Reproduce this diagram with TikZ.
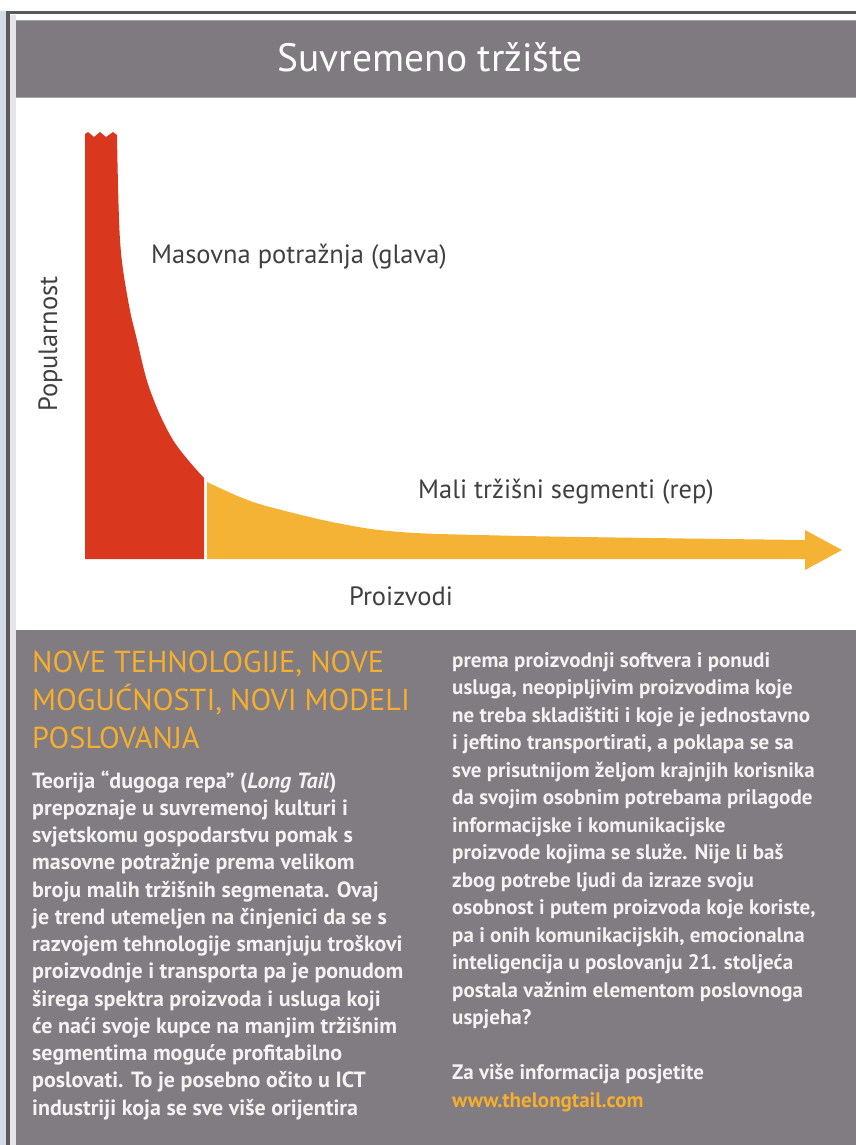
\documentclass[tikz,border=0pt]{standalone}
\usepackage{fontspec}
\setmainfont{PT Sans}
\definecolor{frameblue}{HTML}{D3DCE4}
\definecolor{framedark}{HTML}{5A5A5C}
\definecolor{frameinner}{HTML}{E4E7EA}
\definecolor{headgray}{HTML}{7E7A7F}
\definecolor{panelgray}{HTML}{807C81}
\definecolor{headred}{HTML}{D9381E}
\definecolor{tailyellow}{HTML}{F5B335}
\definecolor{headorange}{HTML}{F5AE2E}
\definecolor{charttext}{HTML}{404040}
\definecolor{bodytext}{HTML}{F4F2F2}
\tikzset{
  charttxt/.style={inner sep=0pt, text=charttext, font=\fontsize{26.5}{31}\selectfont},
  headtxt/.style={inner sep=0pt, anchor=base west, text=headorange, font=\fontsize{30.3}{36}\selectfont},
  bodytxt/.style={inner sep=0pt, anchor=base west, text=bodytext, font=\bfseries\fontsize{21}{26}\selectfont},
  bodytxtl/.style={bodytxt, font=\bfseries\fontsize{22}{26}\selectfont},
  urltxt/.style={bodytxt, text=headorange},
}
\begin{document}
\begin{tikzpicture}[x=1pt,y=-1pt]
\useasboundingbox (0,0) rectangle (856,1145);
% frame
\fill[white] (0,0) rectangle (856,1145);
\fill[frameblue] (0,11) rectangle (6,1145);
\fill[frameinner] (9,15) rectangle (16,1145);
\fill[framedark] (6,11) rectangle (856,14.5);
\fill[framedark] (6,11) rectangle (9.5,1145);
% header
\fill[headgray] (16,21) rectangle (856,97);
\draw[line width=1pt, headgray!70!white] (16,20.5) -- (856,20.5);
\draw[line width=1pt, headgray!70!white] (16,97.5) -- (856,97.5);
\node (title) [inner sep=0pt, anchor=base, text=white, font=\fontsize{39.5}{46}\selectfont] at (430,72) {Suvremeno tržište};
% chart
\fill[headred] (85,559) -- (85,134) -- (88,132) -- (94,137) -- (100,132) -- (106,137) -- (113,132) -- (117,135)
  -- plot[smooth, tension=0.6] coordinates {(117,135) (120,240) (128,300) (137,340) (150,390) (173,440) (204,478)}
  -- (204,559) -- cycle;
\fill[tailyellow] (207,559) -- (207,482)
  -- plot[smooth, tension=0.6] coordinates {(207,482) (240,497) (270,507) (337,523) (400,532) (500,535.5) (650,538) (805,540)}
  -- (805,530) -- (842,550) -- (805,570) -- (805,559) -- cycle;
\node (head) [charttxt, anchor=base west] at (151,263) {Masovna potražnja (glava)};
\node (tail) [charttxt, anchor=base west] at (418,498) {Mali tržišni segmenti (rep)};
\node (xlab) [charttxt, anchor=base] at (401,605) {Proizvodi};
\node (ylab) [charttxt, anchor=base, rotate=90] at (57,344) {Popularnost};
% panel
\fill[panelgray] (16,630) rectangle (856,1145);
\node (h1) [headtxt] at (32,672) {NOVE TEHNOLOGIJE, NOVE};
\node (h2) [headtxt] at (32,710) {MOGUĆNOSTI, NOVI MODELI};
\node (h3) [headtxt] at (32,748) {POSLOVANJA};
% left column
\node (a1) [bodytxtl] at (32,788) {Teorija “dugoga repa” (\textit{Long Tail})};
\node (a2) [bodytxtl] at (32,815.25) {prepoznaje u suvremenoj kulturi i};
\node (a3) [bodytxtl] at (32,842.5) {svjetskomu gospodarstvu pomak s};
\node (a4) [bodytxtl] at (32,869.75) {masovne potražnje prema velikom};
\node (a5) [bodytxtl] at (32,897) {broju malih tržišnih segmenata. Ovaj};
\node (a6) [bodytxtl] at (32,924.25) {je trend utemeljen na činjenici da se s};
\node (a7) [bodytxtl] at (32,951.5) {razvojem tehnologije smanjuju troškovi};
\node (a8) [bodytxtl] at (32,978.75) {proizvodnje i transporta pa je ponudom};
\node (a9) [bodytxtl] at (32,1006) {širega spektra proizvoda i usluga koji};
\node (a10) [bodytxtl] at (32,1033.25) {će naći svoje kupce na manjim tržišnim};
\node (a11) [bodytxtl] at (32,1060.5) {segmentima moguće profitabilno};
\node (a12) [bodytxtl] at (32,1087.75) {poslovati. To je posebno očito u ICT};
\node (a13) [bodytxtl] at (32,1115) {industriji koja se sve više orijentira};
% right column
\node (b1) [bodytxt] at (452,667) {prema proizvodnji softvera i ponudi};
\node (b2) [bodytxt] at (452,694.5) {usluga, neopipljivim proizvodima koje};
\node (b3) [bodytxt] at (452,722) {ne treba skladištiti i koje je jednostavno};
\node (b4) [bodytxt] at (452,749.5) {i jeftino transportirati, a poklapa se sa};
\node (b5) [bodytxt] at (452,777) {sve prisutnijom željom krajnjih korisnika};
\node (b6) [bodytxt] at (452,804.5) {da svojim osobnim potrebama prilagode};
\node (b7) [bodytxt] at (452,832) {informacijske i komunikacijske};
\node (b8) [bodytxt] at (452,859.5) {proizvode kojima se služe. Nije li baš};
\node (b9) [bodytxt] at (452,887) {zbog potrebe ljudi da izraze svoju};
\node (b10) [bodytxt] at (452,914.5) {osobnost i putem proizvoda koje koriste,};
\node (b11) [bodytxt] at (452,942) {pa i onih komunikacijskih, emocionalna};
\node (b12) [bodytxt] at (452,969.5) {inteligencija u poslovanju 21. stoljeća};
\node (b13) [bodytxt] at (452,997) {postala važnim elementom poslovnoga};
\node (b14) [bodytxt] at (452,1024.5) {uspjeha?};
\node (b15) [bodytxt] at (452,1079.5) {Za više informacija posjetite};
\node (b16) [urltxt] at (452,1107) {www.thelongtail.com};
\end{tikzpicture}
\end{document}
